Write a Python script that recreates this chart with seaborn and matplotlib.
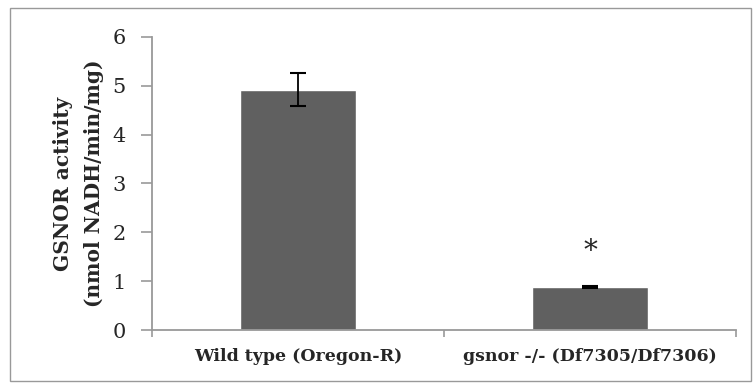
import matplotlib
matplotlib.use("Agg")
import matplotlib.pyplot as plt
import seaborn as sns
import pandas as pd
import numpy as np
from matplotlib.patches import Rectangle

categories = ["Wild type (Oregon-R)", "gsnor -/- (Df7305/Df7306)"]
values = [4.92, 0.88]
errors = [0.34, 0.02]
yticks = [0, 1, 2, 3, 4, 5, 6]
ylabel = "GSNOR activity\n(nmol NADH/min/mg)"

sns.set_theme(style="white")
plt.rcParams['font.family'] = ['DejaVu Serif']

df = pd.DataFrame({"cat": categories, "val": values})

fig = plt.figure(figsize=(7.55, 3.85), dpi=100)
W, H = 755, 385
ax = fig.add_axes([152 / W, 1 - 330 / H, (736 - 152) / W, (330 - 37) / H])

sns.barplot(data=df, x="cat", y="val", color="#606060", saturation=1,
            width=0.4, errorbar=None, ax=ax)
ax.errorbar(range(len(values)), values, yerr=errors, fmt="none",
            ecolor="black", elinewidth=1.3, capsize=6, capthick=1.5)

ax.set_xlim(-0.5, 1.5)
ax.set_ylim(0, 6)
ax.set_yticks(yticks)
ax.set_yticklabels([str(t) for t in yticks], fontsize=15)
ax.set_xticks(range(len(categories)))
ax.set_xticklabels(categories, fontsize=12.5, fontweight="bold")
ax.set_xticks([-0.5, 0.5, 1.5], minor=True)
ax.tick_params(axis="x", which="major", bottom=False, length=0, pad=13)
ax.tick_params(axis="x", which="minor", bottom=True, length=5, width=1.2, color="#999999", direction="out")
ax.tick_params(axis="y", which="major", left=True, length=8, width=1.2, color="#999999", direction="out", pad=11)
ax.set_xlabel("")
ax.set_ylabel(ylabel, fontsize=14.5, fontweight="bold", linespacing=1.7, labelpad=6)

for s in ["top", "right"]:
    ax.spines[s].set_visible(False)
for s in ["left", "bottom"]:
    ax.spines[s].set_color("#999999")
    ax.spines[s].set_linewidth(1.3)

ax.text(1, 1.6, "*", ha="center", va="center", fontsize=20)

fig.patches.append(Rectangle((10 / W, 1 - 381 / H), (751 - 10) / W, (381 - 8) / H,
                             transform=fig.transFigure, fill=False,
                             edgecolor="#999999", linewidth=1))

fig.savefig("out.png", dpi=100)
